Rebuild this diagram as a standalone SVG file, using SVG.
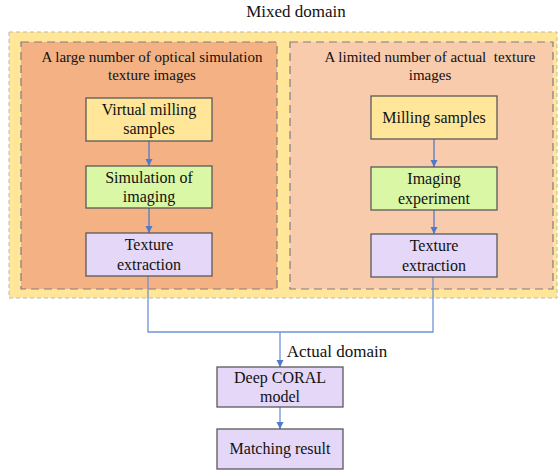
<svg xmlns="http://www.w3.org/2000/svg" width="559" height="472" viewBox="0 0 559 472">
<style>
text{fill:#111;text-anchor:middle}
.n{font-size:16px}
.h{font-size:15px}
.node{stroke:#595959;stroke-width:1.3}
.y{fill:#FFE699}.g{fill:#D9F7A5}.p{fill:#E4D7F7}
.c{fill:none;stroke:#4F7ACB;stroke-width:1.3}
</style>
<defs>
<marker id="ah" markerWidth="8" markerHeight="8" refX="7" refY="4" orient="auto" markerUnits="userSpaceOnUse">
<path d="M0,0.5 L7,4 L0,7.5 Z" fill="#4F7ACB"/>
</marker>
</defs>
<rect width="559" height="472" fill="#fff"/>
<g font-family="Liberation Serif">
<g id="mixed">
<rect x="9" y="32" width="548" height="266" fill="#FFE699" stroke="#BFB9A8" stroke-width="1" stroke-dasharray="4,3"/>
<text x="296" y="17" font-family="Liberation Serif" font-size="17">Mixed domain</text>
</g>
<g id="sim-group">
<rect x="21" y="42" width="256" height="247" fill="#F4B183" stroke="#7F7F7F" stroke-width="1.2" stroke-dasharray="8,5"/>
<text class="h" x="152" y="62" font-family="Liberation Serif">A large number of optical simulation</text>
<text class="h" x="152" y="80" font-family="Liberation Serif">texture images</text>
</g>
<g id="real-group">
<rect x="290" y="42" width="263" height="247" fill="#F8CBAD" stroke="#7F7F7F" stroke-width="1.2" stroke-dasharray="8,5"/>
<text class="h" x="430" y="62" font-family="Liberation Serif" xml:space="preserve">A limited number of actual  texture</text>
<text class="h" x="430" y="80" font-family="Liberation Serif">images</text>
</g>
<g id="connectors">
<line class="c" x1="149" y1="141" x2="149" y2="166" marker-end="url(#ah)"/>
<line class="c" x1="149" y1="208" x2="149" y2="233" marker-end="url(#ah)"/>
<line class="c" x1="434" y1="139" x2="434" y2="167" marker-end="url(#ah)"/>
<line class="c" x1="434" y1="210" x2="434" y2="234" marker-end="url(#ah)"/>
<polyline class="c" points="148,276 148,332 433,332 433,277" style="stroke:#6F93D6"/>
<line class="c" x1="280" y1="332" x2="280" y2="367" marker-end="url(#ah)" style="stroke:#6F93D6"/>
<line class="c" x1="280" y1="407" x2="280" y2="429" marker-end="url(#ah)" style="stroke:#6F93D6"/>
<text x="337" y="357" font-family="Liberation Serif" font-size="17">Actual domain</text>
</g>
<g id="virtual-milling">
<rect class="node y" x="86" y="98" width="126" height="43"/>
<text class="n" x="149" y="115" font-family="Liberation Serif">Virtual milling</text>
<text class="n" x="149" y="134" font-family="Liberation Serif">samples</text>
</g>
<g id="simulation-imaging">
<rect class="node g" x="86" y="166" width="126" height="42"/>
<text class="n" x="149" y="183" font-family="Liberation Serif">Simulation of</text>
<text class="n" x="149" y="202" font-family="Liberation Serif">imaging</text>
</g>
<g id="texture-left">
<rect class="node p" x="86" y="233" width="126" height="43"/>
<text class="n" x="149" y="250" font-family="Liberation Serif">Texture</text>
<text class="n" x="149" y="270" font-family="Liberation Serif">extraction</text>
</g>
<g id="milling-samples">
<rect class="node y" x="371" y="96" width="126" height="43"/>
<text class="n" x="434" y="123" font-family="Liberation Serif">Milling samples</text>
</g>
<g id="imaging-experiment">
<rect class="node g" x="371" y="167" width="126" height="43"/>
<text class="n" x="434" y="184" font-family="Liberation Serif">Imaging</text>
<text class="n" x="434" y="204" font-family="Liberation Serif">experiment</text>
</g>
<g id="texture-right">
<rect class="node p" x="371" y="234" width="126" height="43"/>
<text class="n" x="434" y="251" font-family="Liberation Serif">Texture</text>
<text class="n" x="434" y="271" font-family="Liberation Serif">extraction</text>
</g>
<g id="deep-coral">
<rect class="node p" x="217" y="367" width="126" height="40"/>
<text class="n" x="280" y="383" font-family="Liberation Serif">Deep CORAL</text>
<text class="n" x="280" y="402" font-family="Liberation Serif">model</text>
</g>
<g id="matching-result">
<rect class="node p" x="217" y="429" width="126" height="40"/>
<text class="n" x="280" y="454" font-family="Liberation Serif">Matching result</text>
</g>
</g>
</svg>
